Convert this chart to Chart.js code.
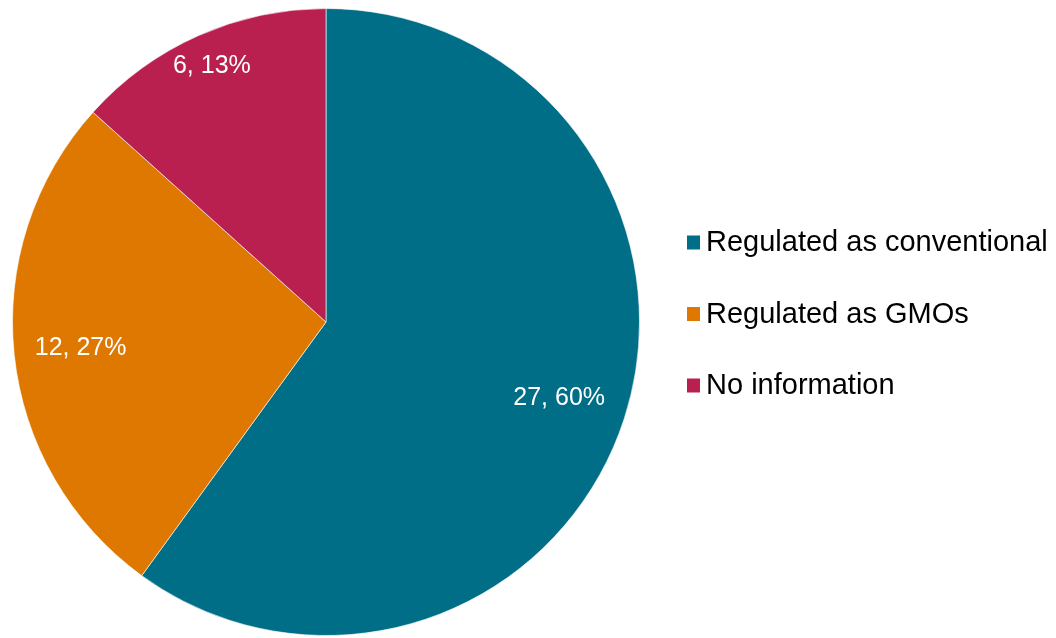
<!DOCTYPE html>
<html>
<head>
<meta charset="utf-8">
<script src="https://cdn.jsdelivr.net/npm/chart.js@4.4.1/dist/chart.umd.min.js"></script>
<style>
  html, body { margin: 0; padding: 0; background: #ffffff; }
  #wrap { width: 1056px; height: 638px; position: relative; }
</style>
</head>
<body>
<div id="wrap"><canvas id="chart" width="1056" height="638"></canvas></div>
<script>
// Regulatory status of genome-edited products (counts)
const categories = ['Regulated as conventional', 'Regulated as GMOs', 'No information'];
const counts = [27, 12, 6];
const sliceColors = ['#006E87', '#DE7800', '#B92050'];
// radial position of each value label, as a share of the pie radius
const labelRadius = [0.782, 0.787, 0.895];

const total = counts.reduce((a, b) => a + b, 0);

// Writes "count, percent" inside every slice
const sliceLabels = {
  id: 'sliceLabels',
  afterDatasetsDraw(chart) {
    const ctx = chart.ctx;
    const meta = chart.getDatasetMeta(0);
    ctx.save();
    ctx.fillStyle = '#ffffff';
    ctx.font = '25px "Liberation Sans", Arial, sans-serif';
    ctx.textAlign = 'center';
    ctx.textBaseline = 'middle';
    meta.data.forEach((arc, i) => {
      const mid = (arc.startAngle + arc.endAngle) / 2;
      const r = arc.outerRadius * labelRadius[i];
      const x = arc.x + Math.cos(mid) * r;
      const y = arc.y + Math.sin(mid) * r;
      const pct = Math.round(counts[i] / total * 100);
      ctx.fillText(counts[i] + ', ' + pct + '%', x, y);
    });
    ctx.restore();
  }
};

// Legend column to the right of the pie
const sideLegend = {
  id: 'sideLegend',
  afterDraw(chart) {
    const ctx = chart.ctx;
    const x0 = 687, y0 = 242, step = 71.5, box = 13;
    ctx.save();
    ctx.font = '29px "Liberation Sans", Arial, sans-serif';
    ctx.textBaseline = 'middle';
    ctx.textAlign = 'left';
    categories.forEach((name, i) => {
      const y = y0 + i * step;
      ctx.fillStyle = sliceColors[i];
      ctx.fillRect(x0, y - box / 2, box, box + 1);
      ctx.fillStyle = '#000000';
      ctx.fillText(name, 706, y + 1);
    });
    ctx.restore();
  }
};

new Chart(document.getElementById('chart'), {
  type: 'pie',
  data: {
    labels: categories,
    datasets: [{
      data: counts,
      backgroundColor: sliceColors,
      borderColor: 'rgba(255,255,255,0.6)',
      borderWidth: 1
    }]
  },
  options: {
    responsive: false,
    animation: false,
    layout: { padding: { left: 12, top: 8, right: 416, bottom: 2 } },
    plugins: {
      legend: { display: false },
      tooltip: { enabled: false }
    }
  },
  plugins: [sliceLabels, sideLegend]
});
</script>
</body>
</html>
